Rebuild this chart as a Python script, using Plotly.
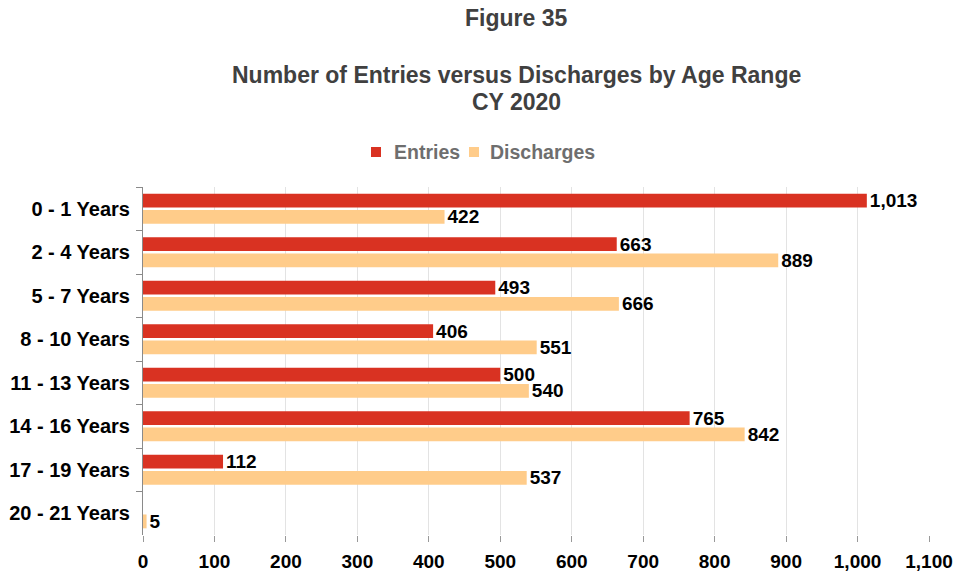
import plotly.graph_objects as go

categories = ["0 - 1 Years", "2 - 4 Years", "5 - 7 Years", "8 - 10 Years",
              "11 - 13 Years", "14 - 16 Years", "17 - 19 Years", "20 - 21 Years"]
entries = [1013, 663, 493, 406, 500, 765, 112, None]
discharges = [422, 889, 666, 551, 540, 842, 537, 5]
x_ticks = list(range(0, 1101, 100))
series = [("Entries", entries, "#D93222"), ("Discharges", discharges, "#FFCC8A")]

FONT = "Liberation Sans, Arial, sans-serif"
W, H = 956, 571
ML, MR, MT, MB = 143, 27, 187, 36
PW, PH = W - ML - MR, H - MT - MB

def px(x):
    return (x - ML) / PW

def py(y):
    return 1 + (MT - y) / PH

fig = go.Figure()
for name, vals, col in series:
    fig.add_trace(go.Bar(
        name=name, y=categories, x=vals, orientation="h",
        marker=dict(color=col, line=dict(width=0)),
        texttemplate="%{x:,}", textposition="outside", constraintext="none",
        textfont=dict(family=FONT, size=19, color="#000000", weight="bold"),
        cliponaxis=False, showlegend=False,
    ))

annos = [
    ("<b>Figure 35</b>", 18),
    ("<b>Number of Entries versus Discharges by Age Range</b>", 75),
    ("<b>CY 2020</b>", 102),
]
for txt, y in annos:
    fig.add_annotation(text=txt, xref="paper", yref="paper",
                       x=px(516), y=py(y),
                       xanchor="center", yanchor="middle", showarrow=False,
                       font=dict(family=FONT, size=23, color="#404040"))

# manual legend
legend_pos = [(371, 392), (469, 488)]
for (name, _, col), (sx, tx) in zip(series, legend_pos):
    fig.add_shape(type="rect", xref="paper", yref="paper",
                  x0=px(sx), x1=px(sx + 10), y0=py(157), y1=py(147),
                  fillcolor=col, line=dict(width=0))
    fig.add_annotation(text=f"<b>{name}</b>", xref="paper", yref="paper",
                       x=px(tx), y=py(152), xanchor="left", yanchor="middle",
                       showarrow=False,
                       font=dict(family=FONT, size=19.5, color="#6E6E6E"))

fig.update_layout(
    width=W, height=H,
    margin=dict(l=ML, r=MR, t=MT, b=MB, pad=0, autoexpand=False),
    paper_bgcolor="white", plot_bgcolor="white",
    barmode="group", bargap=0.25, bargroupgap=0.15,
    font=dict(family=FONT, size=19, color="#000000"),
    showlegend=False,
    xaxis=dict(range=[0, 1100], tickvals=x_ticks, ticktext=[f"{v:,}" for v in x_ticks],
               showgrid=True, gridcolor="#E3E3E3", gridwidth=1,
               zeroline=False, showline=False, automargin=False,
               ticks="outside", ticklen=6, tickcolor="#999999",
               ticklabelstandoff=3,
               tickfont=dict(family=FONT, size=19, color="#000000", weight="bold")),
    yaxis=dict(autorange="reversed", showline=True, linecolor="#8A8A8A", linewidth=1,
               ticks="outside", tickson="boundaries", ticklen=6, tickcolor="#8A8A8A",
               showgrid=False, zeroline=False, automargin=False,
               tickfont=dict(family=FONT, size=20, color="#000000", weight="bold"),
               ticklabelstandoff=8),
)

fig.write_html("out.html", config={"displayModeBar": False},
               post_script="document.body.style.margin='0';document.body.style.padding='0';")
